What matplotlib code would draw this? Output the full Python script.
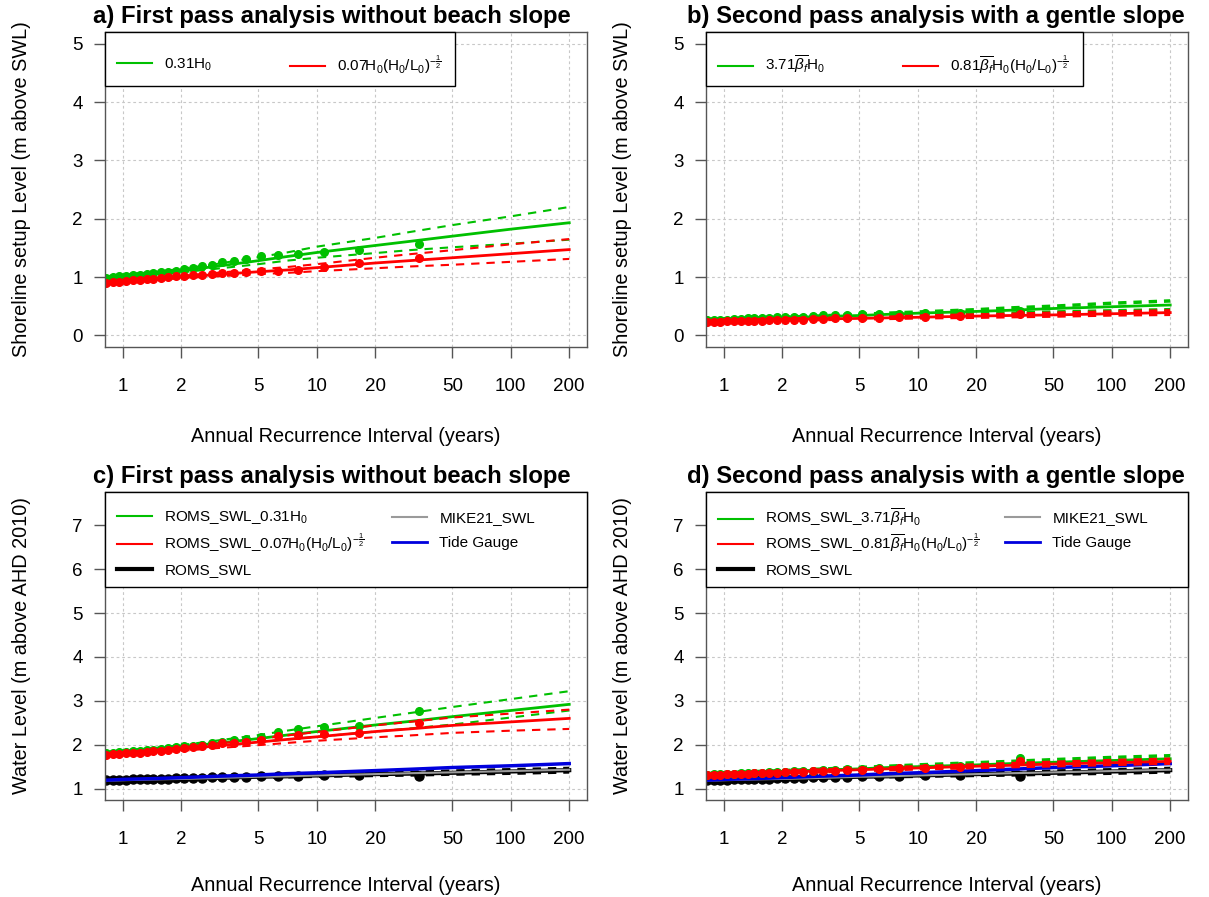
import matplotlib
matplotlib.use("Agg")
import matplotlib.pyplot as plt
from matplotlib.lines import Line2D
from matplotlib.legend import Legend
from matplotlib.patches import Rectangle

plt.rcParams["font.family"] = ["Liberation Sans", "DejaVu Sans"]
plt.rcParams["mathtext.fontset"] = "custom"
plt.rcParams["mathtext.rm"] = "Liberation Sans"
plt.rcParams["mathtext.it"] = "Liberation Sans:italic"
plt.rcParams["mathtext.bf"] = "Liberation Sans:bold"
plt.rcParams["lines.scale_dashes"] = False

# empirical annual recurrence intervals of the ranked events
ari_pts = [33.50, 16.49, 10.83, 7.99, 6.29, 5.15, 4.34, 3.73, 3.25, 2.87, 2.56, 2.30,
           2.08, 1.88, 1.72, 1.57, 1.44, 1.33, 1.22, 1.13, 1.04, 0.96, 0.89, 0.82]
# ARI grid of the fitted curves
ari_fit = [0.81, 1, 1.5, 2, 3, 5, 7, 10, 20, 30, 50, 100, 200]

# a) setup, no slope
a_g_pts = [1.57, 1.47, 1.43, 1.40, 1.38, 1.36, 1.30, 1.28, 1.25, 1.21, 1.19, 1.16,
           1.13, 1.11, 1.09, 1.08, 1.06, 1.05, 1.04, 1.03, 1.02, 1.01, 1.00, 0.99]
a_r_pts = [1.33, 1.24, 1.17, 1.12, 1.11, 1.10, 1.08, 1.07, 1.06, 1.05, 1.04, 1.03,
           1.02, 1.01, 1.00, 0.99, 0.97, 0.96, 0.95, 0.94, 0.93, 0.92, 0.91, 0.90]
a_g_fit = [1.00, 1.03, 1.07, 1.11, 1.18, 1.28, 1.35, 1.42, 1.54, 1.61, 1.70, 1.82, 1.93]
a_g_up = [1.01, 1.04, 1.09, 1.14, 1.22, 1.34, 1.42, 1.52, 1.67, 1.77, 1.89, 2.04, 2.20]
a_g_lo = [0.99, 1.02, 1.05, 1.08, 1.14, 1.22, 1.28, 1.33, 1.41, 1.46, 1.51, 1.57, 1.64]
a_r_fit = [0.91, 0.93, 0.97, 1.00, 1.04, 1.09, 1.12, 1.16, 1.24, 1.28, 1.33, 1.40, 1.47]
a_r_up = [0.92, 0.95, 0.99, 1.02, 1.07, 1.13, 1.17, 1.22, 1.33, 1.39, 1.46, 1.56, 1.65]
a_r_lo = [0.90, 0.92, 0.95, 0.98, 1.01, 1.05, 1.07, 1.10, 1.15, 1.18, 1.21, 1.26, 1.31]

# b) setup, gentle slope
b_g_pts = [0.42, 0.39, 0.38, 0.37, 0.36, 0.36, 0.35, 0.34, 0.34, 0.33, 0.32, 0.32,
           0.31, 0.31, 0.30, 0.30, 0.29, 0.29, 0.28, 0.28, 0.27, 0.27, 0.26, 0.26]
b_r_pts = [0.36, 0.33, 0.32, 0.31, 0.30, 0.30, 0.29, 0.29, 0.28, 0.28, 0.27, 0.27,
           0.27, 0.26, 0.26, 0.25, 0.25, 0.25, 0.24, 0.24, 0.24, 0.23, 0.23, 0.22]
b_g_fit = [0.27, 0.28, 0.29, 0.30, 0.32, 0.34, 0.36, 0.38, 0.41, 0.43, 0.46, 0.49, 0.52]
b_g_up = [0.27, 0.28, 0.30, 0.31, 0.33, 0.36, 0.38, 0.40, 0.44, 0.47, 0.50, 0.55, 0.59]
b_g_lo = [0.26, 0.27, 0.28, 0.29, 0.30, 0.32, 0.33, 0.35, 0.37, 0.38, 0.40, 0.42, 0.44]
b_r_fit = [0.24, 0.25, 0.26, 0.27, 0.28, 0.29, 0.30, 0.31, 0.33, 0.34, 0.35, 0.37, 0.39]
b_r_up = [0.25, 0.26, 0.27, 0.28, 0.29, 0.30, 0.31, 0.33, 0.35, 0.36, 0.38, 0.40, 0.42]
b_r_lo = [0.23, 0.24, 0.25, 0.26, 0.27, 0.28, 0.29, 0.30, 0.31, 0.32, 0.33, 0.35, 0.36]

# c) water level, no slope
c_g_pts = [2.77, 2.42, 2.40, 2.35, 2.30, 2.17, 2.13, 2.10, 2.07, 2.03, 2.00, 1.98,
           1.96, 1.94, 1.92, 1.90, 1.88, 1.87, 1.86, 1.85, 1.84, 1.83, 1.82, 1.81]
c_r_pts = [2.50, 2.27, 2.25, 2.22, 2.21, 2.10, 2.07, 2.05, 2.03, 2.00, 1.97, 1.95,
           1.93, 1.91, 1.88, 1.86, 1.85, 1.83, 1.82, 1.81, 1.80, 1.79, 1.78, 1.77]
c_g_fit = [1.82, 1.85, 1.90, 1.95, 2.03, 2.14, 2.22, 2.30, 2.45, 2.53, 2.64, 2.78, 2.92]
c_g_up = [1.83, 1.87, 1.93, 1.99, 2.09, 2.22, 2.32, 2.42, 2.61, 2.72, 2.86, 3.04, 3.22]
c_g_lo = [1.80, 1.83, 1.87, 1.91, 1.97, 2.06, 2.12, 2.18, 2.30, 2.37, 2.46, 2.62, 2.78]
c_r_fit = [1.78, 1.81, 1.86, 1.90, 1.97, 2.06, 2.12, 2.18, 2.30, 2.36, 2.44, 2.52, 2.60]
c_r_up = [1.79, 1.83, 1.89, 1.94, 2.02, 2.13, 2.21, 2.29, 2.44, 2.52, 2.62, 2.71, 2.80]
c_r_lo = [1.76, 1.79, 1.83, 1.86, 1.92, 1.99, 2.04, 2.09, 2.17, 2.21, 2.27, 2.32, 2.36]

# d) water level, gentle slope
d_g_pts = [1.70, 1.52, 1.50, 1.48, 1.47, 1.45, 1.44, 1.43, 1.42, 1.41, 1.40, 1.39,
           1.38, 1.38, 1.37, 1.36, 1.36, 1.35, 1.35, 1.34, 1.34, 1.33, 1.33, 1.32]
d_r_pts = [1.62, 1.49, 1.48, 1.46, 1.45, 1.43, 1.42, 1.41, 1.40, 1.39, 1.38, 1.38,
           1.37, 1.36, 1.36, 1.35, 1.35, 1.34, 1.34, 1.33, 1.33, 1.32, 1.32, 1.31]
d_g_fit = [1.33, 1.35, 1.37, 1.39, 1.42, 1.45, 1.48, 1.50, 1.54, 1.57, 1.60, 1.64, 1.68]
d_g_up = [1.34, 1.36, 1.39, 1.41, 1.44, 1.48, 1.51, 1.54, 1.59, 1.62, 1.66, 1.71, 1.75]
d_g_lo = [1.32, 1.34, 1.36, 1.37, 1.40, 1.43, 1.45, 1.47, 1.50, 1.52, 1.55, 1.58, 1.62]
d_r_fit = [1.31, 1.33, 1.35, 1.37, 1.40, 1.43, 1.45, 1.47, 1.51, 1.53, 1.56, 1.59, 1.62]
d_r_up = [1.32, 1.34, 1.36, 1.39, 1.42, 1.45, 1.47, 1.50, 1.54, 1.57, 1.60, 1.64, 1.67]
d_r_lo = [1.30, 1.32, 1.34, 1.36, 1.38, 1.41, 1.43, 1.45, 1.48, 1.50, 1.52, 1.55, 1.58]

# still water level (shared by c and d)
swl_pts = [1.29, 1.31, 1.30, 1.29, 1.29, 1.28, 1.27, 1.27, 1.26, 1.26, 1.25, 1.25,
           1.24, 1.24, 1.23, 1.23, 1.22, 1.22, 1.21, 1.21, 1.20, 1.20, 1.19, 1.19]
swl_fit = [1.20, 1.21, 1.22, 1.23, 1.25, 1.27, 1.28, 1.30, 1.33, 1.34, 1.36, 1.39, 1.42]
swl_up = [1.20, 1.21, 1.22, 1.24, 1.26, 1.28, 1.30, 1.32, 1.35, 1.37, 1.40, 1.43, 1.46]
swl_lo = [1.19, 1.20, 1.21, 1.22, 1.24, 1.26, 1.27, 1.28, 1.30, 1.31, 1.33, 1.35, 1.38]
mike_fit = [1.18, 1.19, 1.21, 1.22, 1.24, 1.27, 1.28, 1.30, 1.33, 1.35, 1.37, 1.40, 1.43]
tide_fit = [1.19, 1.21, 1.23, 1.25, 1.28, 1.31, 1.34, 1.36, 1.41, 1.44, 1.48, 1.52, 1.57]

xticks = [1, 2, 5, 10, 20, 50, 100, 200]
GREEN = "#00c000"
RED = "#ff0000"
BLUE = "#0000dd"
GREY = "#9a9a9a"
DASH = (6, 5)

lab_g1 = r"0.31H$_0$"
lab_r1 = r"0.07H$_0$(H$_0$/L$_0$)$^{-\frac{1}{2}}$"
lab_g2 = r"3.71$\overline{\beta_f}$H$_0$"
lab_r2 = r"0.81$\overline{\beta_f}$H$_0$(H$_0$/L$_0$)$^{-\frac{1}{2}}$"

W, H = 1209, 897
AX_W = 482


def setup_axes(ax, yticks, ylim, ylabel, title, title_x, xlabpad):
    ax.set_xscale("log")
    ax.set_xlim(0.81, 247)
    ax.set_ylim(*ylim)
    ax.set_xticks(xticks)
    ax.set_xticklabels([str(t) for t in xticks])
    ax.minorticks_off()
    ax.set_yticks(yticks)
    ax.grid(True, color="#c8c8c8", linestyle=(0, (2, 2)), linewidth=0.8)
    ax.set_axisbelow(True)
    for s in ax.spines.values():
        s.set_color("#555555")
        s.set_linewidth(1.0)
    ax.tick_params(axis="x", length=8, width=1, color="#555555", labelsize=13.5, pad=14)
    ax.tick_params(axis="y", length=8, width=1, color="#555555", labelsize=13.5, pad=8)
    ax.set_xlabel("Annual Recurrence Interval (years)", fontsize=14.3, labelpad=xlabpad)
    ax.set_ylabel(ylabel, fontsize=14.3, labelpad=30)
    ax.set_title(title, fontsize=17.2, fontweight="bold", pad=6.5, x=title_x)


def draw_setup(ax, g_pts, r_pts, g_fit, g_up, g_lo, r_fit, r_up, r_lo, lw_d):
    ax.plot(ari_fit, g_up, color=GREEN, lw=lw_d, dashes=DASH)
    ax.plot(ari_fit, g_lo, color=GREEN, lw=lw_d, dashes=DASH)
    ax.plot(ari_pts, g_pts, "o", color=GREEN, ms=5.5)
    ax.plot(ari_fit, g_fit, color=GREEN, lw=2)
    ax.plot(ari_fit, r_up, color=RED, lw=lw_d, dashes=DASH)
    ax.plot(ari_fit, r_lo, color=RED, lw=lw_d, dashes=DASH)
    ax.plot(ari_pts, r_pts, "o", color=RED, ms=5.5)
    ax.plot(ari_fit, r_fit, color=RED, lw=2)


def draw_swl(ax):
    ax.plot(ari_fit, swl_up, color="black", lw=2.5, dashes=DASH)
    ax.plot(ari_fit, swl_lo, color="black", lw=2.5, dashes=DASH)
    ax.plot(ari_pts, swl_pts, "o", color="black", ms=6.5)
    ax.plot(ari_fit, swl_fit, color="black", lw=3)
    ax.plot(ari_fit, mike_fit, color=GREY, lw=1.5)
    ax.plot(ari_fit, tide_fit, color=BLUE, lw=2.5)


def legend_box(ax, width_px, height_px, ax_h_px, entries):
    # white framed box in the top-left corner, then one legend per entry
    ax.add_patch(Rectangle((0, 1 - height_px / ax_h_px), width_px / AX_W, height_px / ax_h_px,
                           transform=ax.transAxes, facecolor="white", edgecolor="black",
                           lw=1.0, zorder=4, clip_on=False))
    for color, lw, label, x_px, y_px in entries:
        leg = Legend(ax, [Line2D([], [], color=color, lw=lw)], [label], loc="center left",
                     bbox_to_anchor=(x_px / AX_W, 1 - y_px / ax_h_px), borderaxespad=0,
                     borderpad=0, frameon=False, fontsize=11, handlelength=2.3,
                     handletextpad=0.8)
        leg.set_zorder(5)
        ax.add_artist(leg)


fig = plt.figure(figsize=(12.09, 8.97), dpi=100)
ax_a = fig.add_axes([105 / W, (H - 347) / H, AX_W / W, 315 / H])
ax_b = fig.add_axes([706 / W, (H - 347) / H, AX_W / W, 315 / H])
ax_c = fig.add_axes([105 / W, (H - 800) / H, AX_W / W, 308 / H])
ax_d = fig.add_axes([706 / W, (H - 800) / H, AX_W / W, 308 / H])

setup_axes(ax_a, [0, 1, 2, 3, 4, 5], (-0.2, 5.2), "Shoreline setup Level (m above SWL)",
           "a) First pass analysis without beach slope", 0.47, 23.5)
draw_setup(ax_a, a_g_pts, a_r_pts, a_g_fit, a_g_up, a_g_lo, a_r_fit, a_r_up, a_r_lo, 1.5)
legend_box(ax_a, 350, 54, 315, [(GREEN, 1.5, lab_g1, 12, 33), (RED, 1.5, lab_r1, 185, 33)])

setup_axes(ax_b, [0, 1, 2, 3, 4, 5], (-0.2, 5.2), "Shoreline setup Level (m above SWL)",
           "b) Second pass analysis with a gentle slope", 0.477, 23.5)
draw_setup(ax_b, b_g_pts, b_r_pts, b_g_fit, b_g_up, b_g_lo, b_r_fit, b_r_up, b_r_lo, 2.5)
legend_box(ax_b, 377, 54, 315, [(GREEN, 1.5, lab_g2, 12, 33), (RED, 1.5, lab_r2, 197, 33)])

setup_axes(ax_c, [1, 2, 3, 4, 5, 6, 7], (0.74, 7.76), "Water Level (m above AHD 2010)",
           "c) First pass analysis without beach slope", 0.47, 20.5)
draw_swl(ax_c)
draw_setup(ax_c, c_g_pts, c_r_pts, c_g_fit, c_g_up, c_g_lo, c_r_fit, c_r_up, c_r_lo, 1.5)
legend_box(ax_c, AX_W, 95, 308, [
    (GREEN, 1.5, "ROMS_SWL_" + lab_g1, 12, 26),
    (RED, 1.5, "ROMS_SWL_" + lab_r1, 12, 51),
    ("black", 3, "ROMS_SWL", 12, 78),
    (GREY, 1.5, "MIKE21_SWL", 287, 26),
    (BLUE, 2, "Tide Gauge", 287, 51),
])

setup_axes(ax_d, [1, 2, 3, 4, 5, 6, 7], (0.74, 7.76), "Water Level (m above AHD 2010)",
           "d) Second pass analysis with a gentle slope", 0.477, 20.5)
draw_swl(ax_d)
draw_setup(ax_d, d_g_pts, d_r_pts, d_g_fit, d_g_up, d_g_lo, d_r_fit, d_r_up, d_r_lo, 2.5)
legend_box(ax_d, AX_W, 95, 308, [
    (GREEN, 1.5, "ROMS_SWL_" + lab_g2, 12, 26),
    (RED, 1.5, "ROMS_SWL_" + lab_r2, 12, 51),
    ("black", 3, "ROMS_SWL", 12, 78),
    (GREY, 1.5, "MIKE21_SWL", 299, 26),
    (BLUE, 2, "Tide Gauge", 299, 51),
])

fig.savefig("out.png", dpi=100)
